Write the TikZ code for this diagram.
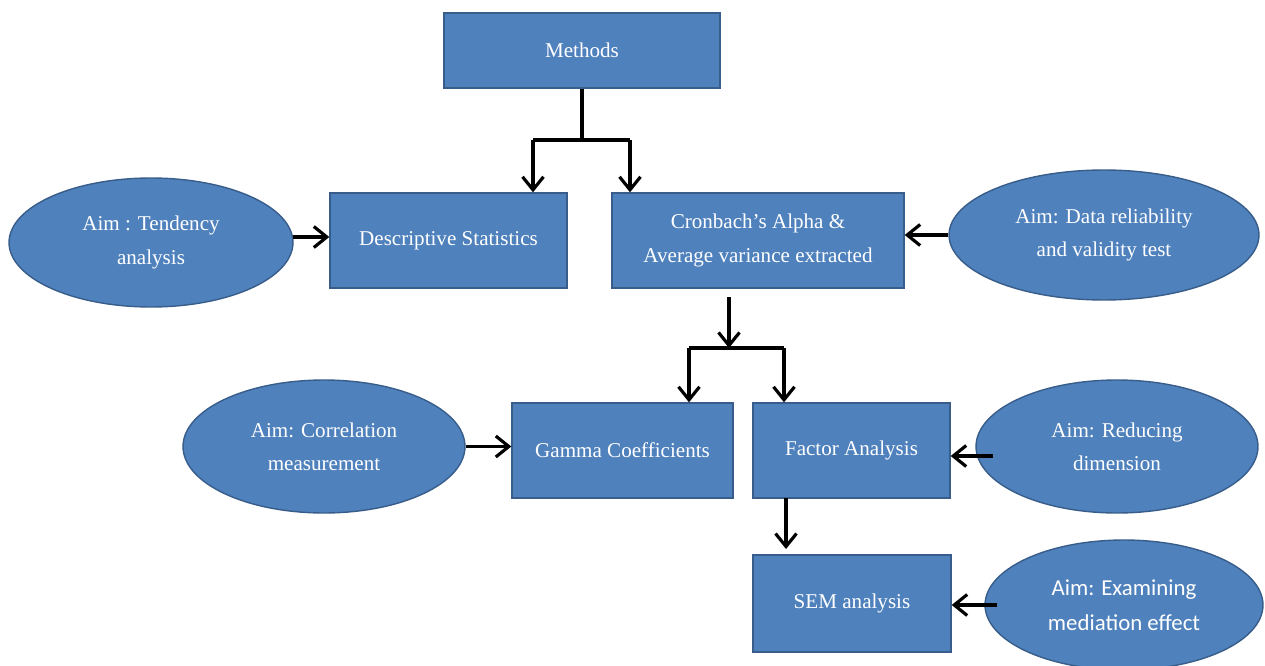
\documentclass[tikz,border=0pt]{standalone}
\usepackage{fontspec}
\setmainfont{Liberation Serif}
\newfontfamily\timesfont{Liberation Serif}
\newfontfamily\calibrifont{Carlito}
\usepackage{tikz}
\usetikzlibrary{shapes.geometric, arrows.meta, positioning, calc}
\usepackage{xcolor}
\definecolor{boxblue}{HTML}{4F81BD}
\definecolor{edgeblue}{HTML}{385D8A}
\tikzstyle{box} = [rectangle, minimum height=1.9cm, text centered, align=center, draw=edgeblue, line width=0.8pt, fill=boxblue, text=white, font=\timesfont\fontsize{12}{19}\selectfont]
\tikzstyle{aim} = [ellipse, minimum width=5.64cm, minimum height=2.66cm, text centered, align=center, draw=edgeblue, line width=0.8pt, fill=boxblue, text=white, font=\timesfont\fontsize{12}{19}\selectfont]
\tikzstyle{arrow} = [line width=1.8pt,->,>={Straight Barb[length=2.6mm,width=4.2mm]}]
\tikzstyle{line} = [line width=1.8pt]
\begin{document}
\begin{tikzpicture}[x=0.02cm, y=-0.02cm]
        \useasboundingbox (0,0) rectangle (1265,666);
        % boxes
        \node (methods) [box, minimum width=5.52cm, minimum height=1.5cm] at (582,50.5) {Methods};
        \node (desc) [box, minimum width=4.74cm] at (448.5,240.5) {Descriptive Statistics};
        \node (cron) [box, minimum width=5.84cm] at (758,240.5) {Cronbach’s Alpha \&\\Average variance extracted};
        \node (gamma) [box, minimum width=4.42cm] at (622.5,450.5) {Gamma Coefficients};
        \node (factor) [box, minimum width=3.94cm] at (851.5,450.5) {Factor Analysis};
        \node (sem) [box, minimum width=3.96cm, minimum height=1.94cm] at (852,603.5) {SEM analysis};
        % aims
        \node (tendaim) [aim, minimum width=5.68cm, minimum height=2.58cm] at (151,242.5) {Aim : Tendency\\analysis};
        \node (dataaim) [aim, minimum width=6.2cm, minimum height=2.6cm] at (1104,235) {Aim: Data reliability\\and validity test};
        \node (corraim) [aim] at (324,446.5) {Aim: Correlation\\measurement};
        \node (redaim) [aim] at (1117,446.5) {Aim: Reducing\\dimension};
        \node (medaim) [aim, minimum width=5.56cm, minimum height=2.6cm, font=\calibrifont\fontsize{13}{20}\selectfont] at (1124,605) {Aim: Examining\\mediation effect};

        % split points
        \coordinate (m1l) at (533,140);
        \coordinate (m1r) at (630,140);
        \coordinate (c0) at (729,297);
        \coordinate (c1) at (729,348);
        \coordinate (c1l) at (689,348);
        \coordinate (c1r) at (784,348);
        \coordinate (f0) at (786,498);
        \coordinate (tendout) at (293,237);
        \coordinate (redin) at (993,456);
        \coordinate (medin) at (997,605);

        \draw [line] (methods.south) |- (m1l);
        \draw [line] (m1l) -- (m1r);
        \draw [arrow] (m1l) -- (m1l |- desc.north);
        \draw [arrow] (m1r) -- (m1r |- cron.north);
        \draw [arrow] (c0) -- (c1);
        \draw [line] (c1l) -- (c1r);
        \draw [arrow] (c1l) -- (c1l |- gamma.north);
        \draw [arrow] (c1r) -- (c1r |- factor.north);
        \draw [arrow] (f0) -- ([yshift=3pt]f0 |- sem.north);
        \draw [arrow] (tendout) -- (tendout -| desc.west);
        \draw [arrow] (dataaim.west) -- (dataaim.west -| cron.east);
        \draw [arrow] (corraim.east) -- (corraim.east -| gamma.west);
        \draw [arrow] (redin) -- (redin -| factor.east);
        \draw [arrow] (medin) -- (medin -| sem.east);
    \end{tikzpicture}
\end{document}
